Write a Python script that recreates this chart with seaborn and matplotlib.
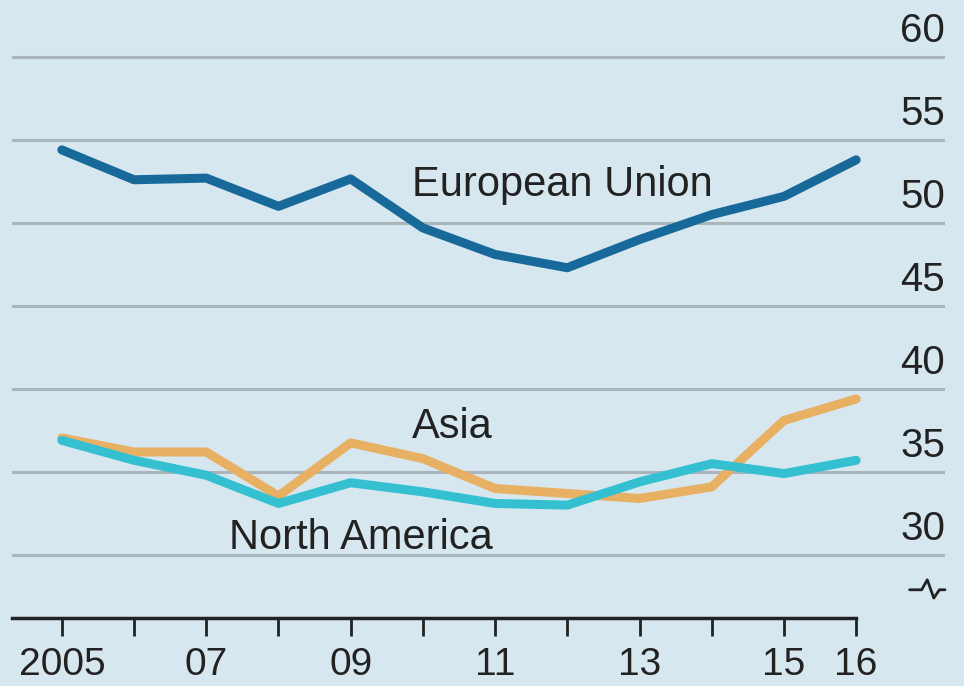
import matplotlib
matplotlib.use("Agg")

import pandas as pd
import matplotlib.pyplot as plt
import matplotlib.transforms as mtransforms
import seaborn as sns

years = list(range(2005, 2017))
eu = [54.4, 52.6, 52.7, 51.0, 52.65, 49.7, 48.1, 47.3, 49.0, 50.5, 51.6, 53.8]
asia = [37.05, 36.2, 36.2, 33.55, 36.75, 35.8, 34.0, 33.7, 33.4, 34.1, 38.1, 39.4]
north_america = [36.9, 35.7, 34.8, 33.1, 34.35, 33.8, 33.1, 33.0, 34.4, 35.5, 34.9, 35.7]

series_names = ["European Union", "Asia", "North America"]
colors = {"European Union": "#17699a", "Asia": "#e8b062", "North America": "#35c0d2"}

y_ticks = [30, 35, 40, 45, 50, 55, 60]
x_ticks = [2005, 2007, 2009, 2011, 2013, 2015, 2016]
x_labels = ["2005", "07", "09", "11", "13", "15", "16"]

BG = "#d7e7f0"

df = pd.DataFrame({"year": years, "European Union": eu, "Asia": asia,
                   "North America": north_america})
long_df = df.melt(id_vars="year", var_name="region", value_name="value")

sns.set_theme(style="white")
plt.rcParams["font.family"] = ["Liberation Sans Narrow", "Liberation Sans", "DejaVu Sans"]

fig = plt.figure(figsize=(9.64, 6.86), dpi=100, facecolor=BG)
ax = fig.add_axes([12 / 964, (686 - 618) / 686, 933 / 964, 618 / 686])
ax.set_facecolor(BG)

sns.lineplot(data=long_df, x="year", y="value", hue="region",
             hue_order=series_names, palette=colors, linewidth=6.5,
             legend=False, ax=ax, zorder=3)

ax.set_xlim(2004.31, 2017.23)
ax.set_ylim(26.2, 63.43)

for v in y_ticks:
    ax.axhline(v, color="#a9b4bb", linewidth=2.2, zorder=1)
    ax.text(1.0, v + 0.4, str(v), transform=ax.get_yaxis_transform(),
            ha="right", va="bottom", fontsize=29, color="#222222")
ax.set_yticks([])

ax.set_xticks(years)
ax.set_xticklabels(["" for _ in years])
ax.tick_params(axis="x", direction="out", length=13, width=2, color="#222222",
               bottom=True, pad=4)
for x, lab in zip(x_ticks, x_labels):
    ax.text(x, -0.047, lab, transform=ax.get_xaxis_transform(),
            ha="center", va="top", fontsize=28, color="#222222")

for s in ["top", "right", "left"]:
    ax.spines[s].set_visible(False)
ax.spines["bottom"].set_color("#222222")
ax.spines["bottom"].set_linewidth(2.5)
ax.spines["bottom"].set_bounds(2004.31, 2016)
ax.set_xlabel("")
ax.set_ylabel("")

# axis break symbol
bt = mtransforms.blended_transform_factory(ax.transAxes, ax.transData)
bx = [0.962, 0.975, 0.981, 0.988, 0.994, 1.0]
by = [27.9, 27.9, 28.5, 27.4, 27.9, 27.9]
ax.plot(bx, by, transform=bt, color="#222222", linewidth=2, clip_on=False)

ax.text(2009.85, 52.3, "European Union", fontsize=30, color="#222222",
        ha="left", va="center")
ax.text(2009.85, 37.7, "Asia", fontsize=30, color="#222222",
        ha="left", va="center")
ax.text(2007.31, 31.0, "North America", fontsize=30, color="#222222",
        ha="left", va="center")

fig.savefig("out.png", dpi=100, facecolor=BG)
